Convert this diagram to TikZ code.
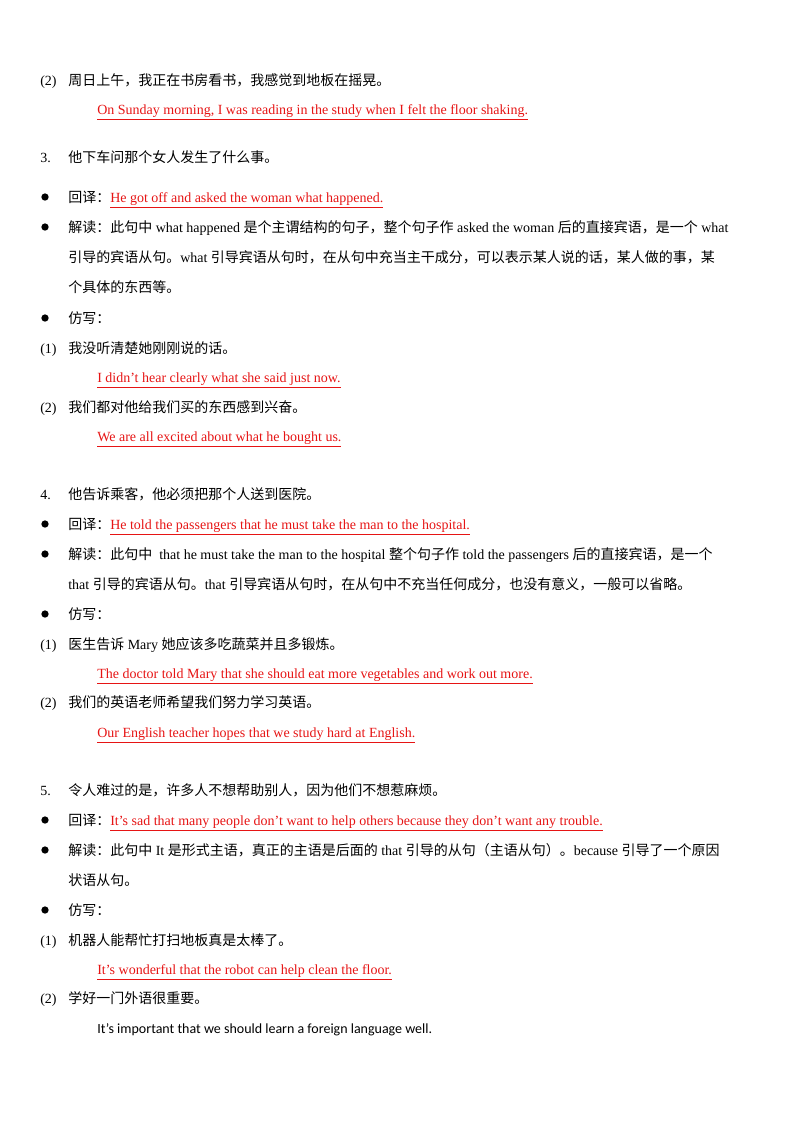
\documentclass[tikz,border=0pt]{standalone}
\usepackage{fontspec}
\setmainfont{Liberation Serif}
\newfontfamily\zh{Noto Sans CJK SC}
\newfontfamily\calfont{Carlito}
\definecolor{ans}{RGB}{230,20,20}
\newcommand{\ans}[1]{\textcolor{ans}{\underline{#1}}}
\begin{document}
\begin{tikzpicture}[x=0.75pt,y=-0.75pt,
  tx/.style={anchor=base west,inner sep=0pt,font=\fontsize{10.5pt}{12pt}\selectfont},
  bul/.style={circle,fill=black,inner sep=0pt,minimum size=5.5pt}]
\useasboundingbox (0,0) rectangle (800,1132);
% item 2 (earlier)
\node[tx] (a1) at (40,85) {(2)};
\node[tx] (a2) at (68,85) {\zh 周日上午，我正在书房看书，我感觉到地板在摇晃。};
\node[tx] (a3) at (97,114) {\ans{On Sunday morning, I was reading in the study when I felt the floor shaking.}};
% 3
\node[tx] (b0) at (40,162) {3.};
\node[tx] (b1) at (68,162) {\zh 他下车问那个女人发生了什么事。};
\node[bul] (bb1) at (45,197) {};
\node[tx] (b2) at (68,202) {{\zh 回译：}\ans{He got off and asked the woman what happened.}};
\node[bul] (bb2) at (45,227) {};
\node[tx] (b3) at (68,232) {{\zh 解读：此句中} what happened {\zh 是个主谓结构的句子，整个句子作} asked the woman {\zh 后的直接宾语，是一个} what};
\node[tx] (b4) at (68,262) {{\zh 引导的宾语从句。}what {\zh 引导宾语从句时，在从句中充当主干成分，可以表示某人说的话，某人做的事，某}};
\node[tx] (b5) at (68,292) {\zh 个具体的东西等。};
\node[bul] (bb3) at (45,318) {};
\node[tx] (b6) at (68,323) {\zh 仿写：};
\node[tx] (b7) at (40,353) {(1)};
\node[tx] (b8) at (68,353) {\zh 我没听清楚她刚刚说的话。};
\node[tx] (b9) at (97,382) {\ans{I didn’t hear clearly what she said just now.}};
\node[tx] (b10) at (40,412) {(2)};
\node[tx] (b11) at (68,412) {\zh 我们都对他给我们买的东西感到兴奋。};
\node[tx] (b12) at (97,441) {\ans{We are all excited about what he bought us.}};
% 4
\node[tx] (c0) at (40,499) {4.};
\node[tx] (c1) at (68,499) {\zh 他告诉乘客，他必须把那个人送到医院。};
\node[bul] (cb1) at (45,524) {};
\node[tx] (c2) at (68,529) {{\zh 回译：}\ans{He told the passengers that he must take the man to the hospital.}};
\node[bul] (cb2) at (45,554) {};
\node[tx] (c3) at (68,559) {{\zh 解读：此句中}\ \ that he must take the man to the hospital {\zh 整个句子作} told the passengers {\zh 后的直接宾语，是一个}};
\node[tx] (c4) at (68,589) {that {\zh 引导的宾语从句。}that {\zh 引导宾语从句时，在从句中不充当任何成分，也没有意义，一般可以省略。}};
\node[bul] (cb3) at (45,614) {};
\node[tx] (c5) at (68,619) {\zh 仿写：};
\node[tx] (c6) at (40,649) {(1)};
\node[tx] (c7) at (68,649) {{\zh 医生告诉} Mary {\zh 她应该多吃蔬菜并且多锻炼。}};
\node[tx] (c8) at (97,678) {\ans{The doctor told Mary that she should eat more vegetables and work out more.}};
\node[tx] (c9) at (40,707) {(2)};
\node[tx] (c10) at (68,707) {\zh 我们的英语老师希望我们努力学习英语。};
\node[tx] (c11) at (97,737) {\ans{Our English teacher hopes that we study hard at English.}};
% 5
\node[tx] (d0) at (40,795) {5.};
\node[tx] (d1) at (68,795) {\zh 令人难过的是，许多人不想帮助别人，因为他们不想惹麻烦。};
\node[bul] (db1) at (45,820) {};
\node[tx] (d2) at (68,825) {{\zh 回译：}\ans{It’s sad that many people don’t want to help others because they don’t want any trouble.}};
\node[bul] (db2) at (45,850) {};
\node[tx] (d3) at (68,855) {{\zh 解读：此句中} It {\zh 是形式主语，真正的主语是后面的} that {\zh 引导的从句（主语从句）。}because {\zh 引导了一个原因}};
\node[tx] (d4) at (68,885) {\zh 状语从句。};
\node[bul] (db3) at (45,910) {};
\node[tx] (d5) at (68,915) {\zh 仿写：};
\node[tx] (d6) at (40,945) {(1)};
\node[tx] (d7) at (68,945) {\zh 机器人能帮忙打扫地板真是太棒了。};
\node[tx] (d8) at (97,974) {\ans{It’s wonderful that the robot can help clean the floor.}};
\node[tx] (d9) at (40,1003) {(2)};
\node[tx] (d10) at (68,1003) {\zh 学好一门外语很重要。};
\node[tx] (d11) at (97,1033) {\calfont It’s important that we should learn a foreign language well.};
\end{tikzpicture}
\end{document}
